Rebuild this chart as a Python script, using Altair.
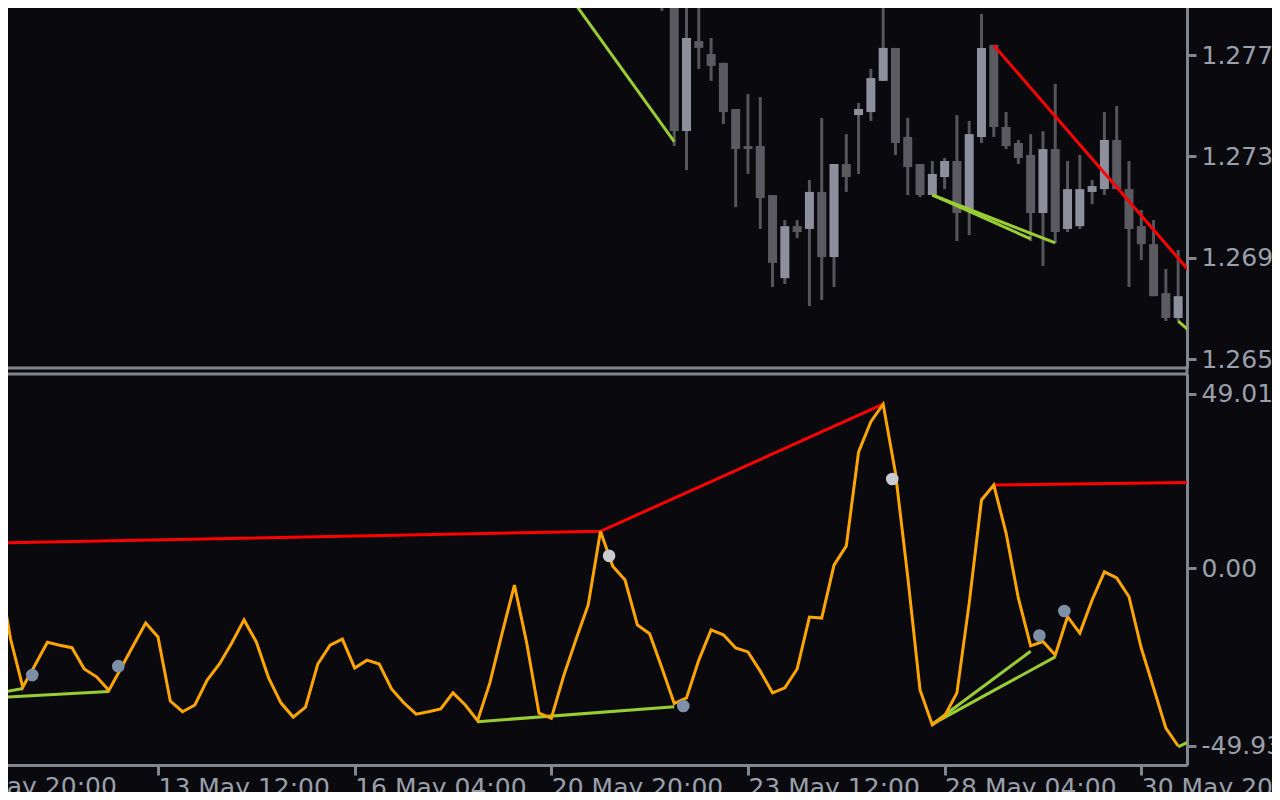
import altair as alt
import pandas as pd

# ---------------- colours ----------------
BG = "#09090e"
AXIS_C = "#85858e"
TXT = "#9aa0ab"
ORANGE = "#ffa500"
RED = "#ff0000"
GREEN = "#9acd32"
BULL = "#8d8f9c"
BEAR = "#5a5a60"
WICK = "#55555b"
DOT_LOW = "#7d90a8"
DOT_HIGH = "#c9ccd1"

# ---------------- time axis (bar index) ----------------
time_tick_idx = [0, 16, 32, 48, 64, 80, 96]
time_tick_text = ["9 May 20:00", "13 May 12:00", "16 May 04:00", "20 May 20:00",
                  "23 May 12:00", "28 May 04:00", "30 May 20:00"]

# ---------------- candles (H4) ----------------
candle_idx = list(range(57, 100))
c_open = [1.28085, 1.28164, 1.27450, 1.27805, 1.27754, 1.27719, 1.27537, 1.27391, 1.27391, 1.27198,
          1.26870, 1.27075, 1.27064, 1.27210, 1.26953, 1.27320, 1.27513, 1.27525, 1.27648, 1.27778,
          1.27427, 1.27320, 1.27198, 1.27269, 1.27332, 1.27139, 1.27427, 1.27790, 1.27466, 1.27403,
          1.27356, 1.27127, 1.27379, 1.27064, 1.27075, 1.27210, 1.27221, 1.27415, 1.27221, 1.27075,
          1.27004, 1.26811, 1.26713]
c_high = [1.28125, 1.28204, 1.28046, 1.28006, 1.27817, 1.27719, 1.27537, 1.27596, 1.27584, 1.27198,
          1.27099, 1.27099, 1.27257, 1.27502, 1.27320, 1.27438, 1.27561, 1.27695, 1.27947, 1.27778,
          1.27502, 1.27320, 1.27332, 1.27344, 1.27513, 1.27490, 1.27912, 1.27790, 1.27525, 1.27415,
          1.27438, 1.27450, 1.27636, 1.27332, 1.27356, 1.27257, 1.27525, 1.27549, 1.27332, 1.27139,
          1.27099, 1.26906, 1.26981]
c_low = [1.27924, 1.27391, 1.27296, 1.27695, 1.27648, 1.27478, 1.27150, 1.27281, 1.27064, 1.26835,
         1.26847, 1.27028, 1.26760, 1.26784, 1.26835, 1.27210, 1.27281, 1.27490, 1.27648, 1.27356,
         1.27198, 1.27190, 1.27198, 1.27221, 1.27016, 1.27040, 1.27403, 1.27427, 1.27379, 1.27320,
         1.27016, 1.26918, 1.27008, 1.27052, 1.27064, 1.27162, 1.27198, 1.27221, 1.26835, 1.26941,
         1.26799, 1.26701, 1.26701]
c_close = [1.27963, 1.27450, 1.27817, 1.27778, 1.27707, 1.27525, 1.27379, 1.27379, 1.27186, 1.26930,
           1.27075, 1.27052, 1.27210, 1.26953, 1.27320, 1.27269, 1.27537, 1.27659, 1.27778, 1.27403,
           1.27308, 1.27198, 1.27281, 1.27332, 1.27127, 1.27438, 1.27778, 1.27466, 1.27391, 1.27344,
           1.27127, 1.27379, 1.27052, 1.27221, 1.27221, 1.27233, 1.27415, 1.27221, 1.27064, 1.27004,
           1.26799, 1.26713, 1.26799]

price_ticks = [1.2655, 1.2695, 1.2735, 1.2775]

# trend lines on price
pl_seg = ["g1", "g1", "r1", "r1", "g2", "g2", "g3", "g3", "r2", "r2", "g4", "g4"]
pl_kind = ["green", "green", "red", "red", "green", "green", "green", "green", "red", "red", "green", "green"]
pl_idx = [47, 58, 73, 75, 79, 87, 79, 89, 84, 100, 99, 100]
pl_val = [1.28150, 1.27408, 1.27991, 1.27947, 1.27198, 1.27025, 1.27198, 1.27009,
          1.27788, 1.26893, 1.26701, 1.26658]

# ---------------- oscillator ----------------
osc_idx = list(range(3, 100))
osc_val = [0.4, -19.8, -33.4, -27.2, -20.8, -21.6, -22.3, -28.3, -30.5, -34.3,
           -28.0, -21.6, -15.4, -19.3, -37.3, -40.3, -38.4, -31.4, -26.9, -21.0,
           -14.5, -20.7, -30.8, -37.8, -41.8, -39.0, -26.9, -21.6, -19.9, -28.0,
           -25.8, -26.9, -33.9, -37.8, -41.0, -40.3, -39.5, -35.0, -38.4, -42.8,
           -32.2, -18.2, -4.7, -21.0, -40.7, -42.1, -30.3, -20.1, -10.3, 10.4,
           0.6, -3.3, -15.9, -18.4, -28.0, -38.0, -36.4, -25.8, -17.3, -18.7,
           -22.4, -23.5, -28.9, -35.0, -33.6, -28.3, -13.7, -14.0, 0.9, 6.3,
           32.7, 41.2, 46.1, 26.8, -2.4, -34.2, -44.0, -41.5, -35.0, -9.8,
           19.2, 23.4, 9.9, -8.4, -21.8, -20.6, -24.4, -13.6, -18.2, -8.9,
           -1.0, -2.7, -8.0, -22.4, -33.6, -44.9, -49.93]

osc_ticks = [49.011, 0.0, -49.93]
osc_tick_text = ["49.0110", "0.00", "-49.9300"]

# trend lines on oscillator
ol_seg = ["r1", "r1", "r1", "r2", "r2", "ga", "ga", "gb", "gb", "gm", "gm",
          "gc", "gc", "gd", "gd", "ge", "ge"]
ol_kind = ["red", "red", "red", "red", "red", "green", "green", "green", "green", "green", "green",
           "green", "green", "green", "green", "green", "green"]
ol_idx = [0, 52, 75, 84, 100, 0, 12, 0, 5, 42, 58, 79, 87, 79, 89, 99, 100]
ol_val = [6.9, 10.4, 46.1, 23.4, 24.1, -36.9, -34.6, -36.9, -33.8, -43.1, -38.9,
          -43.8, -23.3, -43.8, -24.9, -50.2, -48.5]

# signal dots
dot_idx = [5.77, 12.77, 52.7, 58.74, 75.74, 87.71, 89.74]
dot_val = [-30.0, -27.5, 3.5, -38.7, 25.1, -18.9, -12.0]
dot_kind = ["low", "low", "high", "low", "high", "low", "low"]

# ---------------- layout ----------------
XMIN, XMAX = 3.145, 99.72
W = 1187                   # plot width (price scale line on its right edge)
H1, GAP, H2 = 368, 6, 391  # price pane, gap, indicator pane
H = H1 + GAP + H2
PRICE_DOMAIN = [1.265157, 1.279669]
OSC_DOMAIN = [-55.27, 54.59]
FONT = "DejaVu Sans"
FS = 25
XTICK, XPAD = 10, 0

axis_vals = [v for v in time_tick_idx if v >= XMIN]
axis_txt = [t for v, t in zip(time_tick_idx, time_tick_text) if v >= XMIN]
cut_idx = [v for v in time_tick_idx if v < XMIN]
cut_txt = [t for v, t in zip(time_tick_idx, time_tick_text) if v < XMIN]

parts = []
for k in range(len(axis_vals) - 1):
    mid = (axis_vals[k] + axis_vals[k + 1]) / 2
    parts.append(f"datum.value < {mid} ? '{axis_txt[k]}' : ")
time_expr = "".join(parts) + f"'{axis_txt[-1]}'"

oparts = []
for v, t in zip(osc_ticks, osc_tick_text):
    oparts.append(f"abs(datum.value - ({v})) < 1 ? '{t}' : ")
osc_expr = "".join(oparts) + "''"

xscale = alt.Scale(domain=[XMIN, XMAX], nice=False, zero=False)
pscale = alt.Scale(domain=PRICE_DOMAIN, range=[H1, 0], nice=False, zero=False)
oscale = alt.Scale(domain=OSC_DOMAIN, range=[H, H1 + GAP], nice=False, zero=False)

yaxis_common = dict(orient="right", tickSize=9, tickWidth=3, domainWidth=3, labelPadding=5,
                    labelAlign="left", labelBaseline="middle", grid=False, title=None,
                    labelFont=FONT, labelFontSize=FS, labelColor=TXT,
                    domainColor=AXIS_C, tickColor=AXIS_C, labelOverlap=False, labelFlush=False)

xaxis = alt.Axis(
    orient="bottom", values=axis_vals, labelExpr=time_expr, labelAlign="left",
    labelBaseline="top", labelPadding=XPAD, tickSize=XTICK, tickWidth=3, domain=True,
    domainWidth=3, labelFlush=False, labelOverlap=False, grid=False, title=None,
    labelFont=FONT, labelFontSize=FS, labelColor=TXT, domainColor=AXIS_C, tickColor=AXIS_C,
)


def X():
    # the same (shared) time axis in every layer, so the merged axis stays enabled
    return alt.X("idx:Q", scale=xscale, axis=xaxis, title=None)


# ---------------- price pane ----------------
cdf = pd.DataFrame({"idx": candle_idx, "open": c_open, "high": c_high,
                    "low": c_low, "close": c_close})
cdf["dir"] = ["bull" if c >= o else "bear" for o, c in zip(c_open, c_close)]

wicks = alt.Chart(cdf).mark_rule(color=WICK, strokeWidth=3, clip=True).encode(
    x=X(),
    y=alt.Y("low:Q", scale=pscale, title=None,
            axis=alt.Axis(values=price_ticks, format=".5f", **yaxis_common)),
    y2="high:Q",
)
bodies = alt.Chart(cdf).mark_rule(strokeWidth=9, clip=True).encode(
    x=X(),
    y=alt.Y("open:Q", scale=pscale, axis=None),
    y2="close:Q",
    color=alt.Color("dir:N", scale=alt.Scale(domain=["bull", "bear"], range=[BULL, BEAR]), legend=None),
)
pldf = pd.DataFrame({"seg": pl_seg, "kind": pl_kind, "idx": pl_idx, "val": pl_val})
plines = alt.Chart(pldf).mark_line(strokeWidth=3, clip=True).encode(
    x=X(),
    y=alt.Y("val:Q", scale=pscale, axis=None),
    detail="seg:N",
    color=alt.Color("kind:N", scale=alt.Scale(domain=["red", "green"], range=[RED, GREEN]), legend=None),
)

# ---------------- indicator pane ----------------
odf = pd.DataFrame({"idx": osc_idx, "val": osc_val})
oldf = pd.DataFrame({"seg": ol_seg, "kind": ol_kind, "idx": ol_idx, "val": ol_val})
ddf = pd.DataFrame({"idx": dot_idx, "val": dot_val, "kind": dot_kind})

olines = alt.Chart(oldf).mark_line(strokeWidth=3, clip=True).encode(
    x=X(),
    y=alt.Y("val:Q", scale=oscale, title=None,
            axis=alt.Axis(values=osc_ticks, labelExpr=osc_expr, **yaxis_common)),
    detail="seg:N",
    color=alt.Color("kind:N", scale=alt.Scale(domain=["red", "green"], range=[RED, GREEN]), legend=None),
)
osc = alt.Chart(odf).mark_line(color=ORANGE, strokeWidth=3, clip=True).encode(
    x=X(),
    y=alt.Y("val:Q", scale=oscale, axis=None),
)
dots = alt.Chart(ddf).mark_circle(size=160, opacity=1, clip=True).encode(
    x=X(),
    y=alt.Y("val:Q", scale=oscale, axis=None),
    color=alt.Color("kind:N", scale=alt.Scale(domain=["low", "high"], range=[DOT_LOW, DOT_HIGH]), legend=None),
)

# pane frame lines
one = pd.DataFrame({"k": [0]})
sep_top = alt.Chart(one).mark_rule(color=AXIS_C, strokeWidth=3).encode(
    x=alt.value(0), x2=alt.value(W), y=alt.value(H1))
sep_bot = alt.Chart(one).mark_rule(color=AXIS_C, strokeWidth=3).encode(
    x=alt.value(0), x2=alt.value(W), y=alt.value(H1 + GAP))
sep_right = alt.Chart(one).mark_rule(color=AXIS_C, strokeWidth=3).encode(
    x=alt.value(W), y=alt.value(H1 - 2), y2=alt.value(H1 + GAP + 2))

# the time label whose tick lies left of the visible range (cut by the window edge)
cutdf = pd.DataFrame({"idx": cut_idx, "txt": cut_txt})
cut_label = alt.Chart(cutdf).mark_text(
    align="left", baseline="top", font=FONT, fontSize=FS, color=TXT
).encode(
    x=X(),
    y=alt.value(H + XTICK + XPAD),
    text="txt:N",
)

chart = alt.layer(
    wicks, bodies, plines, olines, osc, dots, sep_top, sep_bot, sep_right, cut_label
).resolve_scale(
    y="independent", color="independent"
).resolve_axis(
    y="independent"
).properties(
    width=W,
    height=H,
    background=BG,
    autosize=alt.AutoSizeParams(type="none"),
    # page has an 8px margin: move the plot to the window edge and fill the page exactly
    padding={"left": -8, "top": -8, "right": 1280 - 16 - W + 8, "bottom": 800 - 16 - H + 8},
).configure_view(stroke=None)

chart.save("out.html", embed_options={"renderer": "svg", "actions": False})
